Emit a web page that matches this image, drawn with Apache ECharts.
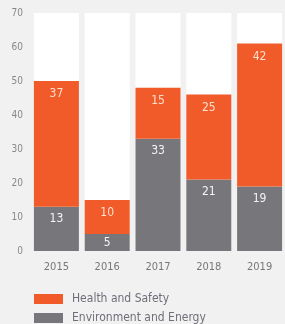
<!DOCTYPE html>
<html><head><meta charset="utf-8">
<script src="https://cdn.jsdelivr.net/npm/echarts@6/dist/echarts.min.js"></script>
<style>html,body{margin:0;padding:0;background:#f1f1f1}#c{width:285px;height:324px}</style>
</head><body><div id="c"></div>
<script>
var years = ['2015','2016','2017','2018','2019'];
var envEnergy = [13, 5, 33, 21, 19];
var healthSafety = [37, 10, 15, 25, 42];
var yTicks = [0, 10, 20, 30, 40, 50, 60, 70];

var FONT = '"Liberation Sans Narrow", "DejaVu Sans Condensed", sans-serif';
function items(vals){
  return vals.map(function(v){
    return v < 8 ? {value: v, label: {position: 'inside'}} : v;
  });
}
var chart = echarts.init(document.getElementById('c'));
chart.setOption({
  backgroundColor: '#f1f1f1',
  animation: false,
  textStyle: {fontFamily: FONT},
  grid: {left: 31, right: -7, top: 13, bottom: 73, containLabel: false},
  legend: {
    orient: 'vertical', left: 34, top: 293, height: 31, padding: 0,
    itemWidth: 29, itemHeight: 10, itemGap: 7, icon: 'rect',
    textStyle: {fontFamily: FONT, fontSize: 12, color: '#6f6f7a', padding: [0,0,0,4]},
    data: ['Health and Safety', 'Environment and Energy']
  },
  xAxis: {
    type: 'category', data: years,
    axisLine: {show: false}, axisTick: {show: false},
    axisLabel: {color: '#777', fontSize: 11, margin: 11, fontFamily: FONT}
  },
  yAxis: {
    type: 'value', min: yTicks[0], max: yTicks[yTicks.length-1], interval: 10,
    splitLine: {show: false}, axisLine: {show: false}, axisTick: {show: false},
    axisLabel: {color: '#888', fontSize: 10, margin: 8, fontFamily: FONT}
  },
  series: [
    {
      name: 'Environment and Energy', type: 'bar', stack: 's', barWidth: 45,
      data: items(envEnergy), itemStyle: {color: '#77777b'},
      showBackground: true, backgroundStyle: {color: '#ffffff'},
      label: {show: true, position: 'insideTop', distance: 6, color: '#f4f4f4', fontSize: 12, fontFamily: FONT}
    },
    {
      name: 'Health and Safety', type: 'bar', stack: 's', barWidth: 45,
      data: items(healthSafety), itemStyle: {color: '#f15a29'},
      label: {show: true, position: 'insideTop', distance: 7, color: '#fde0d0', fontSize: 12, fontFamily: FONT}
    }
  ]
});
</script></body></html>
